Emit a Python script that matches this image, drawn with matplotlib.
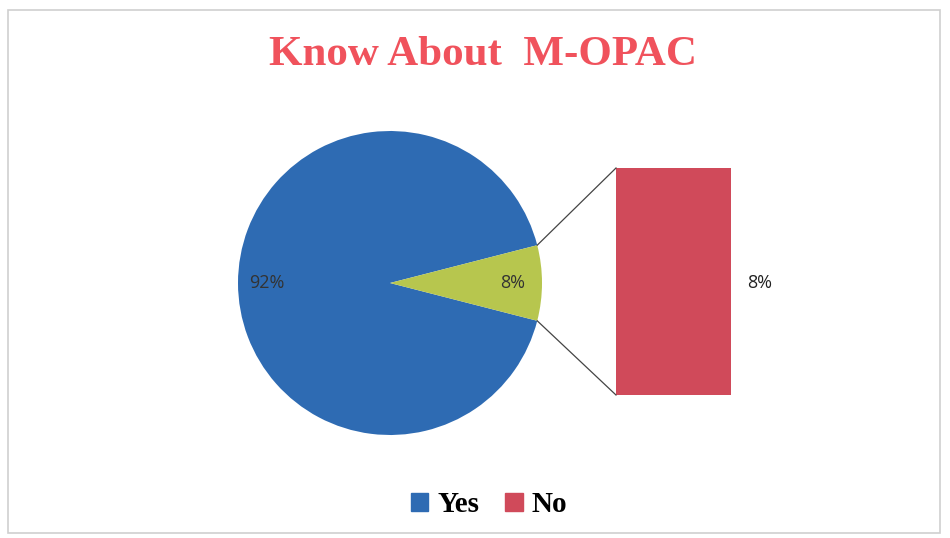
import matplotlib.pyplot as plt
import numpy as np
from matplotlib.patches import Rectangle, Patch

# data
labels = ['Yes', 'No']
values = [92, 8]
colors = ['#2E6BB3', '#B7C64E']
bar_color = '#D04A5A'
title = 'Know About  M-OPAC'

W, H = 950, 538
fig = plt.figure(figsize=(W / 100, H / 100), dpi=100)
ax = fig.add_axes([0, 0, 1, 1])
ax.set_xlim(0, W)
ax.set_ylim(0, H)
ax.set_aspect('equal')
ax.axis('off')

# chart frame
fig.patches.append(Rectangle((8 / W, 5 / H), 932 / W, 523 / H, transform=fig.transFigure,
                             fill=False, edgecolor='#CFCFCF', linewidth=1.2))

# pie, small slice centered on the right
cx, cy, r = 390, H - 283, 152
start = 360 * values[1] / sum(values) / 2
wedges, _, autotexts = ax.pie(values, colors=colors, center=(cx, cy), radius=r,
                              startangle=start, counterclock=True,
                              autopct='%1.0f%%', pctdistance=0.81,
                              wedgeprops=dict(edgecolor='none'),
                              textprops=dict(fontsize=13, color='#333333', family='Open Sans'))
ax.set_xlim(0, W)
ax.set_ylim(0, H)

# secondary bar for the "No" slice
bx0, bx1 = 616, 731
btop, bbot = H - 168, H - 395
ax.bar((bx0 + bx1) / 2, btop - bbot, width=bx1 - bx0, bottom=bbot, color=bar_color)
ax.text(760, cy, f'{values[1]}%', ha='center', va='center', fontsize=13,
        color='#222222', family='Open Sans')

# connector lines
w = wedges[1]
for ang, yb in [(w.theta2, btop), (w.theta1, bbot)]:
    a = np.deg2rad(ang)
    ax.plot([cx + r * np.cos(a), bx0], [cy + r * np.sin(a), yb], color='#444444', lw=0.9)

fig.text(483 / W, 1 - 55 / H, title, ha='center', va='center', fontsize=31,
         fontweight='bold', color='#F0525C', family='Liberation Serif')

handles = [Patch(color=colors[0]), Patch(color=bar_color)]
fig.legend(handles, labels, loc='center', bbox_to_anchor=(489 / W, 1 - 505 / H), ncol=2,
           frameon=False, handlelength=0.6, handleheight=0.6, handletextpad=0.3,
           columnspacing=0.9, prop=dict(family='Liberation Serif', weight='bold', size=21))

fig.savefig('out.png', dpi=100)
